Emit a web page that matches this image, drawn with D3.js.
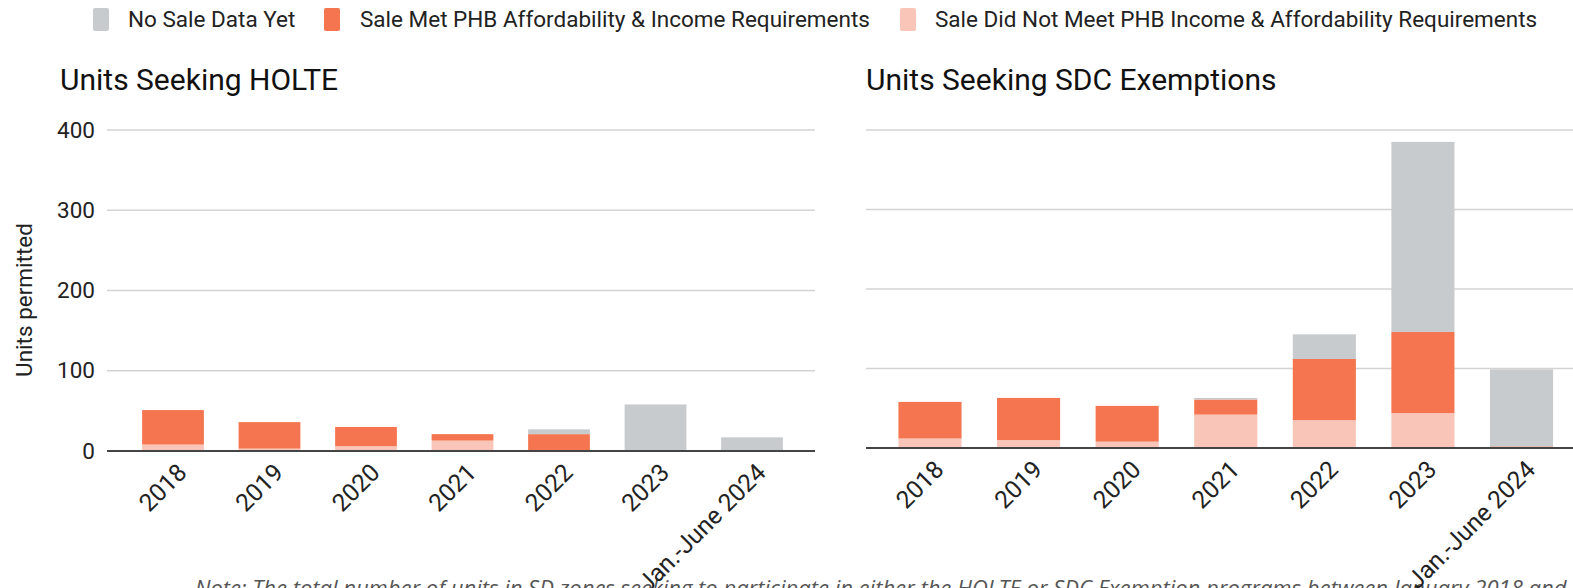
<!DOCTYPE html>
<html>
<head>
<meta charset="utf-8">
<script src="https://cdn.jsdelivr.net/npm/d3@7"></script>
<style>
  html, body { margin: 0; padding: 0; background: #fff; }
  svg { display: block; font-family: Roboto, "Noto Sans", sans-serif; }
</style>
</head>
<body>
<svg id="chart" width="1573" height="588"></svg>
<script>
// Categories shared by both panels
const categories = ["2018", "2019", "2020", "2021", "2022", "2023", "Jan.-June 2024"];

// Series names (stack order bottom -> top)
const seriesNames = [
  "Sale Did Not Meet PHB Income & Affordability Requirements",
  "Sale Met PHB Affordability & Income Requirements",
  "No Sale Data Yet"
];

// Units seeking HOLTE
const holteNotMet = [8, 3, 6, 13, 1, 1, 0];
const holteMet    = [43, 33, 24, 8, 20, 0, 0];
const holteNoData = [0, 0, 0, 0, 6, 57, 17];

// Units seeking SDC exemptions
const sdcNotMet = [12, 10, 8, 42, 35, 44, 0];
const sdcMet    = [46, 53, 45, 19, 77, 102, 2];
const sdcNoData = [0, 0, 0, 2, 31, 239, 97];

const yTicks = [0, 100, 200, 300, 400];
const legendOrder = ["No Sale Data Yet",
  "Sale Met PHB Affordability & Income Requirements",
  "Sale Did Not Meet PHB Income & Affordability Requirements"];

const colors = {
  "No Sale Data Yet": "#c8cbce",
  "Sale Met PHB Affordability & Income Requirements": "#f47550",
  "Sale Did Not Meet PHB Income & Affordability Requirements": "#f8c5b8"
};

const FS = 22.5;
const svg = d3.select("#chart");

// Footnote (runs past the bottom and right edges)
svg.append("text")
  .attr("x", 195)
  .attr("y", 596)
  .attr("font-family", "'Open Sans', 'Noto Sans', sans-serif")
  .attr("font-style", "italic")
  .attr("font-size", 22)
  .attr("fill", "#555")
  .text("Note: The total number of units in SD zones seeking to participate in either the HOLTE or SDC Exemption programs between January 2018 and June 2024.");

// Legend
const legendItems = [
  { name: legendOrder[0], sx: 93, tx: 128 },
  { name: legendOrder[1], sx: 324, tx: 360 },
  { name: legendOrder[2], sx: 900, tx: 935 }
];
const lg = svg.append("g");
legendItems.forEach(d => {
  lg.append("rect").attr("x", d.sx).attr("y", 8).attr("width", 16).attr("height", 23)
    .attr("rx", 2).attr("fill", colors[d.name]);
  lg.append("text").attr("x", d.tx).attr("y", 27).attr("font-size", FS)
    .attr("fill", "#222").text(d.name);
});

function panel(opts) {
  const g = svg.append("g");
  const x = d3.scaleBand().domain(categories).range(opts.xRange)
    .paddingInner(0.36).paddingOuter(0.18);
  const y = d3.scaleLinear().domain([0, 400]).range(opts.yRange);

  // Title
  g.append("text").attr("x", opts.titleX).attr("y", 90).attr("font-size", 30)
    .attr("fill", "#111").text(opts.title);

  // Gridlines
  g.selectAll(".grid").data(yTicks.filter(t => t > 0)).join("line")
    .attr("x1", opts.gridX[0]).attr("x2", opts.gridX[1])
    .attr("y1", d => y(d)).attr("y2", d => y(d))
    .attr("stroke", "#d3d3d3").attr("stroke-width", 1.6);

  // Y axis labels
  if (opts.showAxis) {
    const ax = g.append("g").attr("transform", `translate(${opts.gridX[0] - 12},0)`)
      .call(d3.axisLeft(y).tickValues(yTicks).tickSize(0).tickPadding(0));
    ax.select(".domain").remove();
    ax.selectAll("text").attr("font-size", FS).attr("fill", "#222")
      .attr("font-family", "Roboto, sans-serif");
  }

  // Stacked bars
  const rows = categories.map((c, i) => ({
    cat: c,
    [seriesNames[0]]: opts.notMet[i],
    [seriesNames[1]]: opts.met[i],
    [seriesNames[2]]: opts.noData[i]
  }));
  const stack = d3.stack().keys(seriesNames)(rows);
  stack.forEach(layer => {
    g.append("g").selectAll("rect").data(layer.filter(d => d[1] > d[0])).join("rect")
      .attr("x", d => x(d.data.cat))
      .attr("width", x.bandwidth())
      .attr("y", d => y(d[1]))
      .attr("height", d => y(d[0]) - y(d[1]))
      .attr("fill", colors[layer.key]);
  });

  // Baseline
  g.append("line").attr("x1", opts.gridX[0]).attr("x2", opts.gridX[1])
    .attr("y1", y(0)).attr("y2", y(0))
    .attr("stroke", "#444").attr("stroke-width", 2);

  // Rotated category labels
  g.selectAll(".xl").data(categories).join("text")
    .attr("transform", d => `translate(${x(d) + x.bandwidth() / 2 + 3},${y(0) + 11}) rotate(-45)`)
    .attr("text-anchor", "end")
    .attr("dy", "0.7em")
    .attr("font-size", 24.5)
    .attr("fill", "#222")
    .text(d => d);

  return g;
}

panel({
  title: "Units Seeking HOLTE", titleX: 60,
  xRange: [124.75, 800.25], yRange: [451, 130], gridX: [107, 815],
  showAxis: true,
  notMet: holteNotMet, met: holteMet, noData: holteNoData
});

panel({
  title: "Units Seeking SDC Exemptions", titleX: 866,
  xRange: [880.7, 1570.8], yRange: [448, 130], gridX: [866, 1573],
  showAxis: false,
  notMet: sdcNotMet, met: sdcMet, noData: sdcNoData
});

// Y axis title
svg.append("text")
  .attr("transform", "translate(32,300) rotate(-90)")
  .attr("text-anchor", "middle")
  .attr("font-size", FS).attr("fill", "#222")
  .text("Units permitted");
</script>
</body>
</html>
